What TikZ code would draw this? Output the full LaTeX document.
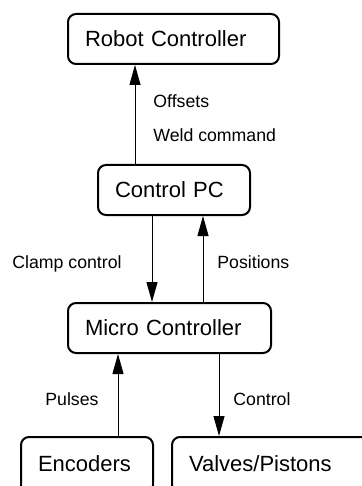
\documentclass[tikz,border=0pt]{standalone}
\usepackage{fontspec}
\setmainfont{Liberation Sans}
\usetikzlibrary{arrows.meta}
\begin{document}
\begin{tikzpicture}[x=0.5pt,y=-0.5pt,
  box/.style={draw, line width=1pt, rounded corners=4pt, minimum height=25pt,
    inner xsep=8.5pt, align=left, font=\fontsize{11}{13}\selectfont},
  lowbox/.style={box, minimum height=28pt},
  arr/.style={line width=0.5pt, -{Triangle[length=10pt,width=5.5pt]}},
  lbl/.style={anchor=base west, inner sep=0pt, font=\fontsize{8.85}{10}\selectfont}]
\useasboundingbox (0,0) rectangle (362,486);
\clip (0,0) rectangle (362,486);
\node[box, text width=88.5pt] (robot) at (173.5,39) {Robot Controller};
\node[box, text width=59pt] (pc) at (174,190) {Control PC};
\node[box, text width=84.5pt] (micro) at (169.5,328) {Micro Controller};
\node[lowbox, text width=49pt] (enc) at (87,465) {\raisebox{1.25pt}{Encoders}};
\node[lowbox, text width=83pt] (valves) at (272,465) {\raisebox{1.25pt}{Valves/Pistons}};
\coordinate (c1) at (135,0);
\coordinate (c2) at (152,0);
\coordinate (c3) at (203,0);
\coordinate (c4) at (118,0);
\coordinate (c5) at (219,0);
\draw[arr] (c1 |- pc.north) -- (c1 |- robot.south);
\draw[arr] (c2 |- pc.south) -- (c2 |- micro.north);
\draw[arr] (c3 |- micro.north) -- (c3 |- pc.south);
\draw[arr] (c4 |- enc.north) -- (c4 |- micro.south);
\draw[arr] (c5 |- micro.south) -- (c5 |- valves.north);
\node[lbl] (l1) at (153,108) {Offsets};
\node[lbl] (l2) at (153,141.5) {Weld command};
\node[lbl] (l3) at (12,268) {Clamp control};
\node[lbl] (l4) at (217,268) {Positions};
\node[lbl] (l5) at (45,405) {Pulses};
\node[lbl] (l6) at (233,405) {Control};
\end{tikzpicture}
\end{document}
